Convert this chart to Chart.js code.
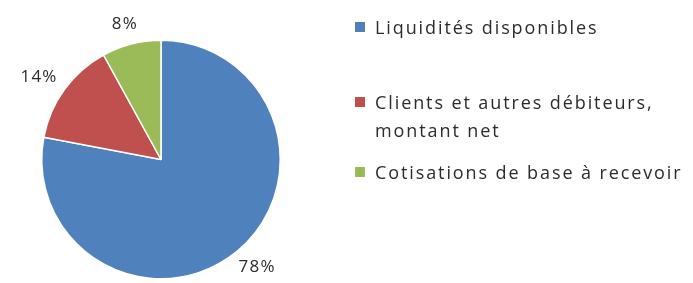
<!DOCTYPE html>
<html>
<head>
<meta charset="utf-8">
<script src="https://cdn.jsdelivr.net/npm/chart.js@4"></script>
<style>
  html, body { margin: 0; padding: 0; background: #ffffff; }
  #wrap { position: relative; width: 693px; height: 283px; overflow: hidden; }
  #c { position: absolute; left: 0; top: 0; }
  #legend { position: absolute; left: 354px; top: 0; font-family: "Open Sans", sans-serif; font-size: 18px; letter-spacing: 1.9px; color: #2b2b2b; }
  .item { position: absolute; left: 0; white-space: nowrap; line-height: 28px; }
  .sw { position: absolute; left: 1px; width: 10px; height: 10px; }
  .txt { position: absolute; left: 21px; top: 0; }
</style>
</head>
<body>
<div id="wrap">
  <canvas id="c" width="693" height="283"></canvas>
  <div id="legend"></div>
</div>
<script>
const categories = [
  ["Liquidités disponibles"],
  ["Clients et autres débiteurs,", "montant net"],
  ["Cotisations de base à recevoir"]
];
const values = [78, 14, 8];
const pctLabels = ["78%", "14%", "8%"];
const colors = ["#4F81BD", "#C0504D", "#9BBB59"];

// HTML legend
const legendTops = [13, 88, 158];
const legend = document.getElementById('legend');
categories.forEach((lines, i) => {
  const item = document.createElement('div');
  item.className = 'item';
  item.style.top = legendTops[i] + 'px';
  const sw = document.createElement('div');
  sw.className = 'sw';
  sw.style.background = colors[i];
  sw.style.top = '9px';
  const txt = document.createElement('div');
  txt.className = 'txt';
  txt.innerHTML = lines.join('<br>');
  item.appendChild(sw);
  item.appendChild(txt);
  legend.appendChild(item);
});

const labelPlugin = {
  id: 'pctLabels',
  afterDatasetsDraw(chart) {
    const ctx = chart.ctx;
    const meta = chart.getDatasetMeta(0);
    ctx.save();
    ctx.font = '17px "Open Sans", sans-serif';
    try { ctx.letterSpacing = '1.2px'; } catch (e) {}
    ctx.fillStyle = '#2b2b2b';
    ctx.textAlign = 'center';
    ctx.textBaseline = 'middle';
    meta.data.forEach((arc, i) => {
      const p = arc.getProps(['x', 'y', 'startAngle', 'endAngle', 'outerRadius'], true);
      const mid = (p.startAngle + p.endAngle) / 2;
      const dx = Math.cos(mid), dy = Math.sin(mid);
      const w = ctx.measureText(pctLabels[i]).width;
      const h = 14;
      const gap = 13;
      const r = p.outerRadius + gap;
      const x = p.x + dx * r + dx * w / 2;
      const y = p.y + dy * r + dy * h / 2;
      ctx.fillText(pctLabels[i], x, y);
    });
    ctx.restore();
  }
};

new Chart(document.getElementById('c'), {
  type: 'pie',
  data: {
    labels: categories.map(l => l.join(' ')),
    datasets: [{
      data: values,
      backgroundColor: colors,
      borderColor: '#ffffff',
      borderWidth: 1.5
    }]
  },
  options: {
    responsive: false,
    animation: false,
    rotation: 0,
    layout: { padding: { left: 41, right: 412, top: 39, bottom: 3 } },
    plugins: {
      legend: { display: false },
      tooltip: { enabled: false }
    }
  },
  plugins: [labelPlugin]
});
</script>
</body>
</html>
